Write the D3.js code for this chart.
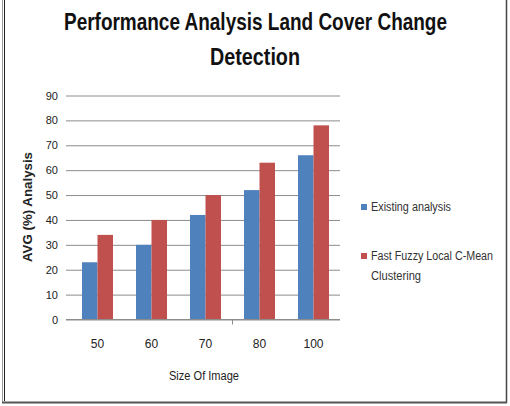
<!DOCTYPE html>
<html>
<head>
<meta charset="utf-8">
<script src="https://cdn.jsdelivr.net/npm/d3@7"></script>
<style>
  body { margin: 0; background: #fff; }
  text { font-family: "Liberation Sans", "DejaVu Sans", sans-serif; }
</style>
</head>
<body>
<svg id="chart" width="510" height="406"></svg>
<script>
// data
const categories = ['50', '60', '70', '80', '100']
const existing = [23, 30, 42, 52, 66]
const fuzzy = [34, 40, 50, 63, 78]
const seriesNames = ['Existing analysis', 'Fast Fuzzy Local C-Mean Clustering']
const yTicks = [0, 10, 20, 30, 40, 50, 60, 70, 80, 90]

const blue = '#4F81BD'
const red = '#C0504D'
const gridColor = '#8c8c8c'

const svg = d3.select('#chart')

// the original font is narrow, so squeeze text to the measured width
function fit(sel, w) {
	sel.attr('textLength', w).attr('lengthAdjust', 'spacingAndGlyphs')
	return sel
}

// frame
svg.append('line').attr('x1', 2.5).attr('x2', 2.5).attr('y1', 0).attr('y2', 403)
	.style('stroke', '#999').style('stroke-width', 1)
svg.append('line').attr('x1', 4.5).attr('x2', 4.5).attr('y1', 0).attr('y2', 401)
	.style('stroke', '#222').style('stroke-width', 1)
svg.append('line').attr('x1', 506.5).attr('x2', 506.5).attr('y1', 0).attr('y2', 403)
	.style('stroke', '#444').style('stroke-width', 1.5)
svg.append('line').attr('x1', 2).attr('x2', 507).attr('y1', 402.5).attr('y2', 402.5)
	.style('stroke', '#555').style('stroke-width', 2)

// scales
const x = d3.scaleBand().domain(categories).range([70.5, 340.5]).paddingInner(0).paddingOuter(0)
const y = d3.scaleLinear().domain([0, 90]).range([319.5, 95.5])
const barW = 15.5

// gridlines + y labels
const yAxis = d3.axisLeft(y).tickValues(yTicks).tickSize(-(340 - 66)).tickPadding(8)
const gy = svg.append('g').attr('transform', 'translate(66,0)').call(yAxis)
gy.select('.domain').remove()
gy.selectAll('.tick line').style('stroke', gridColor).style('stroke-width', 1)
gy.selectAll('.tick text').style('font-size', '11px').style('fill', '#222')
	.attr('x', -8)

// bars
const groups = svg.append('g').selectAll('g').data(categories).enter().append('g')
groups.append('rect')
	.attr('x', d => x(d) + x.bandwidth() / 2 - barW)
	.attr('y', (d, i) => y(existing[i]))
	.attr('width', barW)
	.attr('height', (d, i) => y(0) - y(existing[i]))
	.attr('fill', blue)
groups.append('rect')
	.attr('x', d => x(d) + x.bandwidth() / 2)
	.attr('y', (d, i) => y(fuzzy[i]))
	.attr('width', barW)
	.attr('height', (d, i) => y(0) - y(fuzzy[i]))
	.attr('fill', red)

// x axis: baseline, one tick in the middle like the original, labels
const xAxis = d3.axisBottom(x).tickSize(0).tickPadding(20)
const gx = svg.append('g').attr('transform', `translate(0,${y(0)})`).call(xAxis)
gx.select('.domain').remove()
gx.selectAll('.tick text').style('font-size', '12px').style('fill', '#222')
svg.append('line').attr('x1', 66).attr('x2', 340).attr('y1', y(0)).attr('y2', y(0))
	.style('stroke', gridColor)
svg.append('line').attr('x1', x('80')).attr('x2', x('80')).attr('y1', y(0)).attr('y2', y(0) + 5)
	.style('stroke', gridColor)

// titles
fit(svg.append('text').attr('x', 255.5).attr('y', 30).attr('text-anchor', 'middle')
	.style('font-size', '23px').style('font-weight', 'bold').style('fill', '#111')
	.text('Performance Analysis Land Cover Change'), 383)
fit(svg.append('text').attr('x', 255).attr('y', 65).attr('text-anchor', 'middle')
	.style('font-size', '23px').style('font-weight', 'bold').style('fill', '#111')
	.text('Detection'), 90)

fit(svg.append('text').attr('x', 204).attr('y', 380).attr('text-anchor', 'middle')
	.style('font-size', '12px').style('fill', '#222')
	.text('Size Of Image'), 70)

fit(svg.append('text').attr('transform', 'translate(32,207) rotate(-90)').attr('text-anchor', 'middle')
	.style('font-size', '13px').style('font-weight', 'bold').style('fill', '#222')
	.text('AVG (%) Analysis'), 110)

// legend
const legend = svg.append('g')
legend.append('rect').attr('x', 361).attr('y', 204).attr('width', 6).attr('height', 6).attr('fill', blue)
fit(legend.append('text').attr('x', 371).attr('y', 211).style('font-size', '12px').style('fill', '#333')
	.text(seriesNames[0]), 80)
legend.append('rect').attr('x', 361).attr('y', 253).attr('width', 6).attr('height', 6).attr('fill', red)
fit(legend.append('text').attr('x', 371).attr('y', 260).style('font-size', '12px').style('fill', '#333')
	.text('Fast Fuzzy Local C-Mean'), 122)
fit(legend.append('text').attr('x', 371).attr('y', 280).style('font-size', '12px').style('fill', '#333')
	.text('Clustering'), 50)
</script>
</body>
</html>
